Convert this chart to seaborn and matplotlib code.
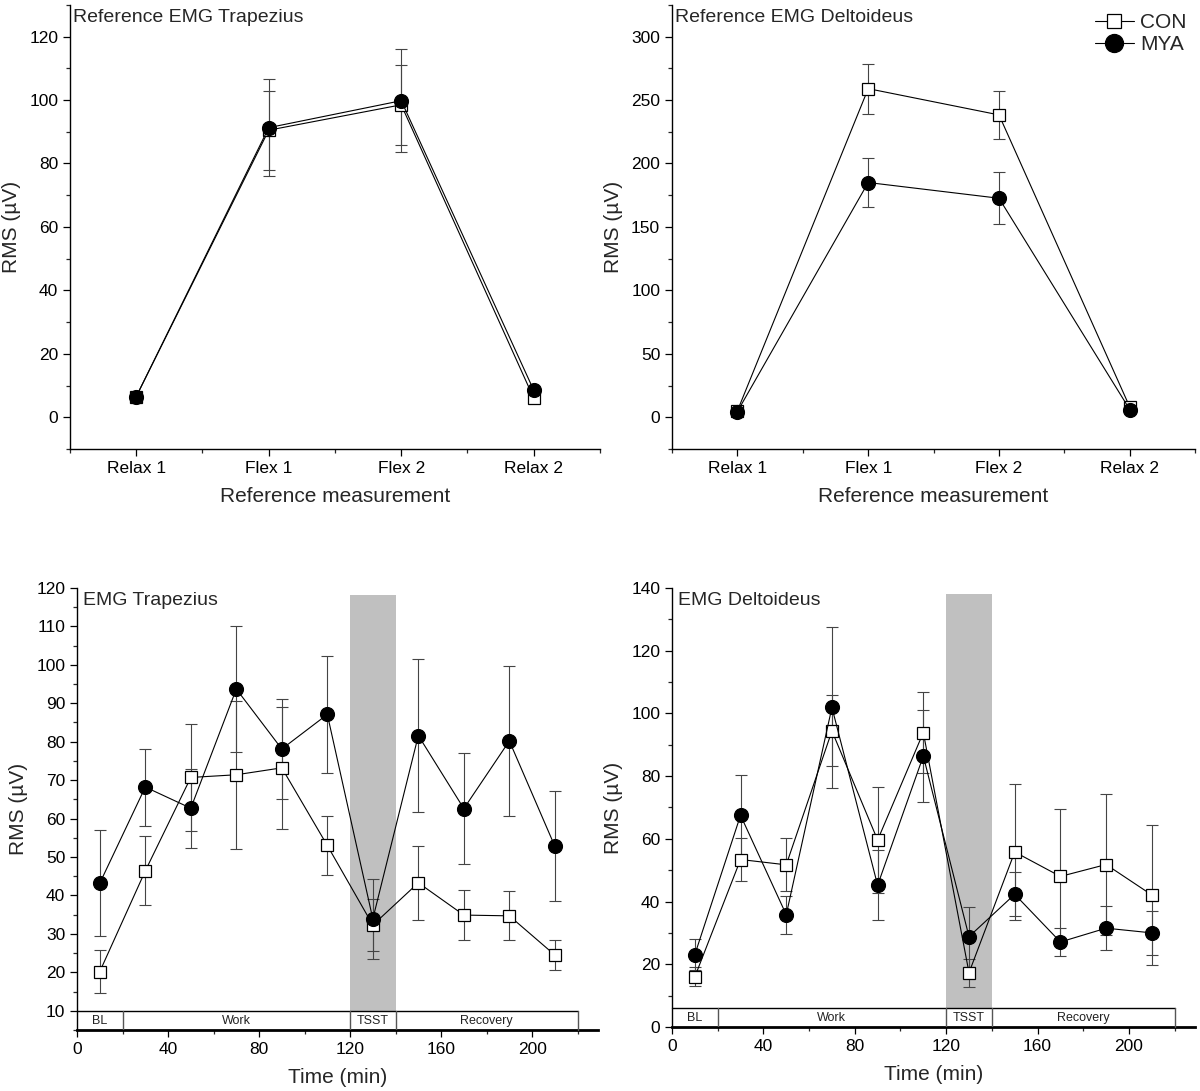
import matplotlib
matplotlib.use("Agg")
import matplotlib.pyplot as plt
from matplotlib.lines import Line2D
from matplotlib.ticker import MultipleLocator
import numpy as np
import pandas as pd
import seaborn as sns

# ---------------- data ----------------
ref_categories = ["Relax 1", "Flex 1", "Flex 2", "Relax 2"]

ref_trap_con = [6.5, 90.5, 98.5, 6.0]
ref_trap_con_err = [0.6, 12.5, 12.7, 0.6]
ref_trap_mya = [6.5, 91.3, 99.8, 8.5]
ref_trap_mya_err = [0.6, 15.2, 16.2, 0.8]

ref_delt_con = [5.0, 259.0, 238.3, 8.0]
ref_delt_con_err = [0.8, 19.8, 18.9, 1.0]
ref_delt_mya = [4.5, 185.0, 172.6, 6.0]
ref_delt_mya_err = [0.8, 19.0, 20.6, 1.0]

time_min = [10, 30, 50, 70, 90, 110, 130, 150, 170, 190, 210]

trap_con = [20.2, 46.4, 70.7, 71.4, 73.2, 53.0, 32.3, 43.3, 34.9, 34.7, 24.5]
trap_con_err = [5.7, 9.0, 14.0, 19.3, 15.8, 7.7, 6.7, 9.6, 6.6, 6.4, 3.8]
trap_mya = [43.2, 68.2, 62.7, 93.7, 78.1, 87.1, 33.9, 81.6, 62.6, 80.2, 52.8]
trap_mya_err = [13.8, 10.0, 10.3, 16.3, 13.0, 15.3, 10.5, 20.0, 14.5, 19.5, 14.3]

delt_con = [16.0, 53.4, 51.7, 94.4, 59.6, 93.9, 17.3, 55.8, 48.0, 51.8, 42.1]
delt_con_err = [3.0, 6.7, 8.4, 11.3, 17.0, 13.0, 4.4, 21.6, 21.5, 22.5, 22.4]
delt_mya = [23.1, 67.5, 35.8, 101.9, 45.2, 86.4, 28.8, 42.3, 27.1, 31.5, 30.0]
delt_mya_err = [4.9, 12.7, 6.0, 25.6, 11.2, 14.7, 9.6, 7.0, 4.6, 7.0, 7.0]

phase_labels = ["BL", "Work", "TSST", "Recovery"]
phase_edges = [0, 20, 120, 140, 220]
tsst_span = [120, 140]

group_names = ["CON", "MYA"]

# ---------------- style ----------------
sns.set_theme(style="ticks")
plt.rcParams["font.family"] = ["Liberation Sans", "DejaVu Sans"]
plt.rcParams["axes.linewidth"] = 1.0

fig = plt.figure(figsize=(12, 10.91), dpi=100)

ax_tl = fig.add_axes([0.0583, 0.5885, 0.4417, 0.407])
ax_tr = fig.add_axes([0.560, 0.5885, 0.436, 0.407])
ax_bl = fig.add_axes([0.0642, 0.0559, 0.4342, 0.4052])
ax_br = fig.add_axes([0.560, 0.0587, 0.436, 0.4024])

LINE_KW = dict(color="black", linewidth=0.8)
CON_KW = dict(marker="s", markersize=8, markerfacecolor="white",
              markeredgecolor="black", markeredgewidth=0.9)
MYA_KW = dict(marker="o", markersize=10, markerfacecolor="black",
              markeredgecolor="black", markeredgewidth=0.9)


def draw_series(ax, x, con, con_err, mya, mya_err):
    ax.errorbar(x, con, yerr=con_err, fmt="none", ecolor="#444444",
                elinewidth=0.8, capsize=4, capthick=0.8, zorder=3)
    ax.errorbar(x, mya, yerr=mya_err, fmt="none", ecolor="#444444",
                elinewidth=0.8, capsize=4, capthick=0.8, zorder=3)
    df_con = pd.DataFrame({"x": x, "y": con})
    df_mya = pd.DataFrame({"x": x, "y": mya})
    sns.lineplot(data=df_con, x="x", y="y", ax=ax, zorder=4,
                 legend=False, **LINE_KW, **CON_KW)
    sns.lineplot(data=df_mya, x="x", y="y", ax=ax, zorder=5,
                 legend=False, **LINE_KW, **MYA_KW)


def style_axes(ax):
    sns.despine(ax=ax)
    ax.tick_params(axis="both", which="major", direction="out", length=5,
                   width=0.9, labelsize=12.5, colors="black")
    ax.tick_params(axis="both", which="minor", direction="out", length=3,
                   width=0.9)
    for s in ["left", "bottom"]:
        ax.spines[s].set_color("black")
    ax.set_ylabel("RMS (\u00b5V)", fontsize=15, labelpad=6)


# ---------- top panels ----------
xpos = list(range(len(ref_categories)))
for ax, con, ce, mya, me, title, ylim, major, minor in [
    (ax_tl, ref_trap_con, ref_trap_con_err, ref_trap_mya, ref_trap_mya_err,
     "Reference EMG Trapezius", (-10, 130), 20, 10),
    (ax_tr, ref_delt_con, ref_delt_con_err, ref_delt_mya, ref_delt_mya_err,
     "Reference EMG Deltoideus", (-25, 325), 50, 25),
]:
    draw_series(ax, xpos, con, ce, mya, me)
    ax.set_xlim(-0.5, 3.5)
    ax.set_ylim(*ylim)
    ax.set_xticks(xpos)
    ax.set_xticklabels(ref_categories)
    ax.xaxis.set_minor_locator(MultipleLocator(0.5))
    ax.set_yticks(np.arange(0, ylim[1] - minor + 1, major))
    ax.yaxis.set_minor_locator(MultipleLocator(minor))
    style_axes(ax)
    ax.set_xlabel("Reference measurement", fontsize=15, labelpad=8)
    ax.text(0.005, 0.99, title, transform=ax.transAxes, ha="left", va="top",
            fontsize=14)

# ---------- bottom panels ----------
for ax, con, ce, mya, me, title, ylim, major, minor, band, shade_top, yt in [
    (ax_bl, trap_con, trap_con_err, trap_mya, trap_mya_err, "EMG Trapezius",
     (5, 120), 10, 5, (5, 10), 118.2, np.arange(10, 121, 10)),
    (ax_br, delt_con, delt_con_err, delt_mya, delt_mya_err, "EMG Deltoideus",
     (0, 140), 20, 10, (0, 6), 138, np.arange(0, 141, 20)),
]:
    ax.fill_between(tsst_span, band[1], shade_top, color="#c0c0c0",
                    linewidth=0, zorder=1)
    draw_series(ax, time_min, con, ce, mya, me)
    # phase band
    ax.plot([phase_edges[0], phase_edges[-1]], [band[1], band[1]],
            color="black", linewidth=1.0, zorder=6, clip_on=False)
    ax.plot([phase_edges[-1], phase_edges[-1]], band, color="#555555",
            linewidth=1.0, zorder=6, clip_on=False)
    for e in phase_edges[1:-1]:
        ax.plot([e, e], band, color="#555555", linewidth=1.0, zorder=6)
    for i, lab in enumerate(phase_labels):
        cx = 0.5 * (phase_edges[i] + phase_edges[i + 1])
        ax.text(cx, band[1] - 0.2 * (band[1] - band[0]), lab, ha="center",
                va="top", fontsize=9, color="#222222", zorder=7)
    ax.set_xlim(0, 229)
    ax.set_ylim(*ylim)
    ax.set_xticks([0, 40, 80, 120, 160, 200])
    ax.xaxis.set_minor_locator(MultipleLocator(20))
    ax.set_yticks(yt)
    ax.yaxis.set_minor_locator(MultipleLocator(minor))
    style_axes(ax)
    ax.spines["bottom"].set_linewidth(2.0)
    ax.set_xlabel("Time (min)", fontsize=15, labelpad=8)
    ax.text(0.012, 0.99, title, transform=ax.transAxes, ha="left", va="top",
            fontsize=14)

# ---------- legend ----------
handles = [
    Line2D([], [], **LINE_KW, **CON_KW),
    Line2D([], [], **LINE_KW, **MYA_KW),
]
ax_tr.legend(handles, group_names, loc="upper right", frameon=False,
             fontsize=15, handlelength=1.9, handletextpad=0.3,
             markerscale=1.3, borderaxespad=0.0, labelspacing=0.15,
             bbox_to_anchor=(1.0, 1.0))

fig.savefig("out.png", dpi=100)
